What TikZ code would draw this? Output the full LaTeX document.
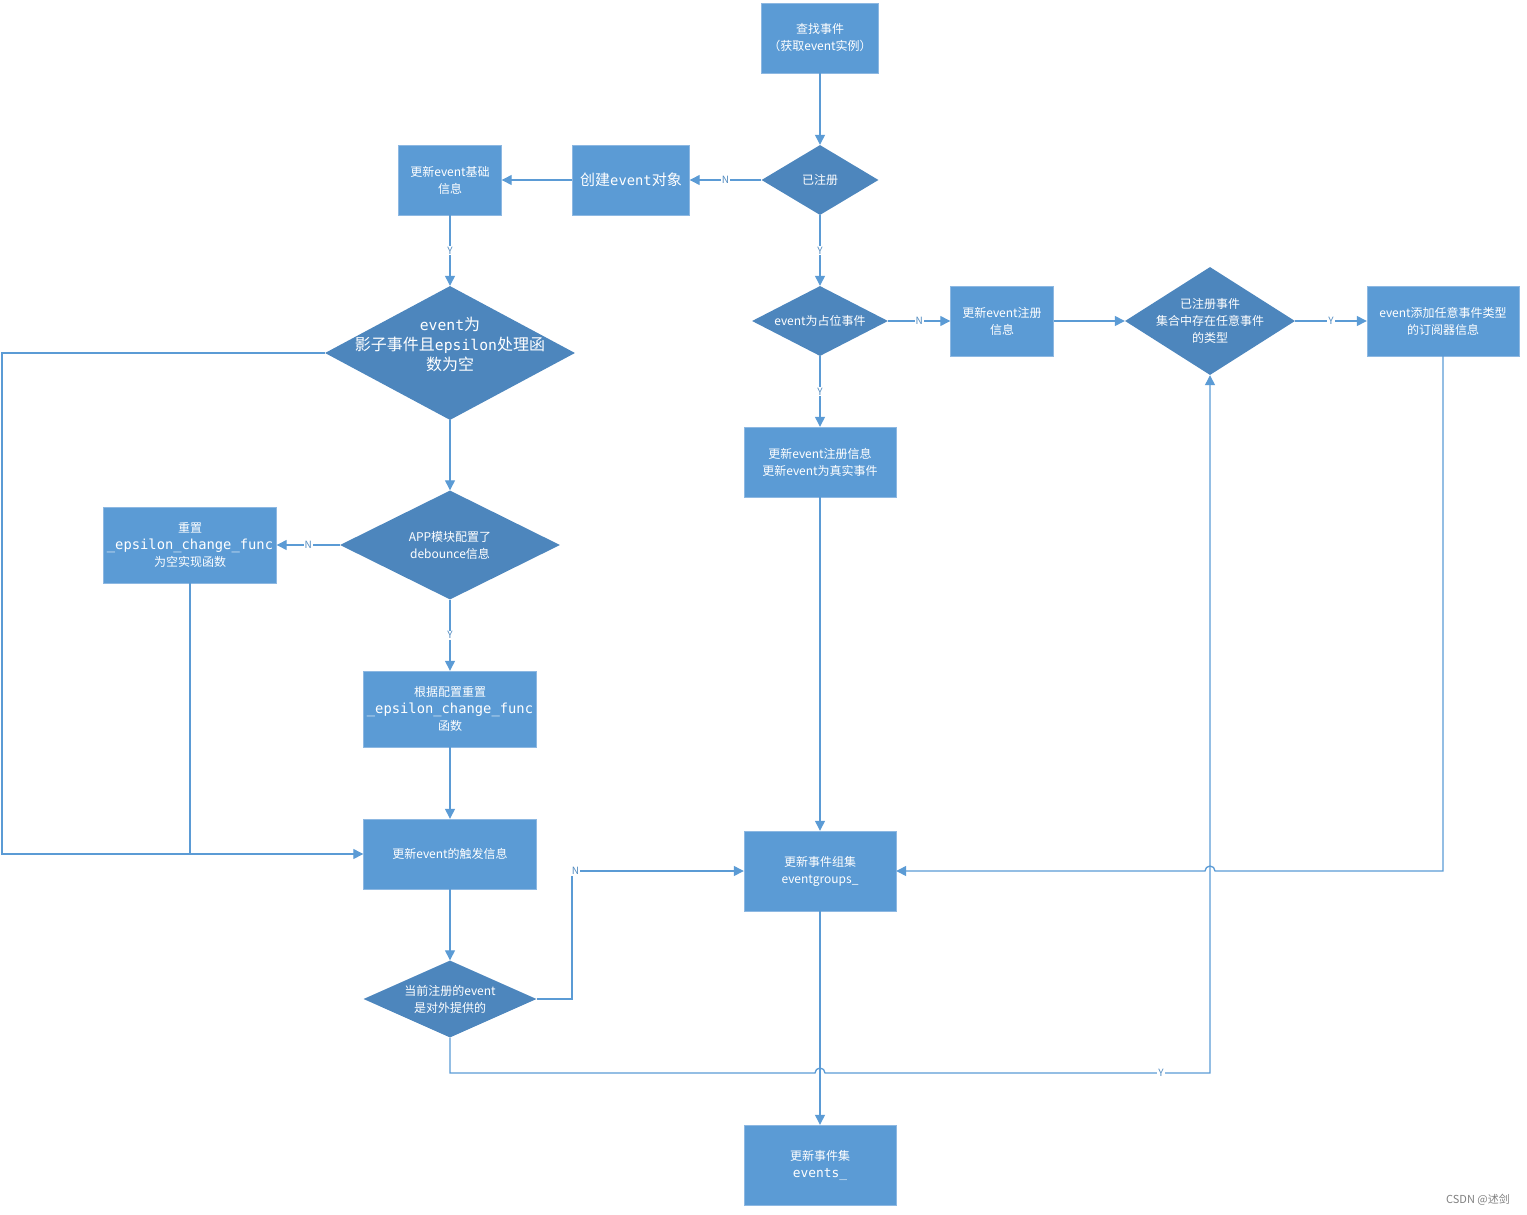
\documentclass[tikz,border=0pt]{standalone}
\usepackage{fontspec}
\setmainfont{Noto Sans CJK SC}
\setmonofont[Scale=0.92]{DejaVu Sans Mono}
\usetikzlibrary{shapes.geometric,arrows.meta}
\definecolor{boxblue}{HTML}{5B9BD5}
\definecolor{diablue}{HTML}{4D86BD}
\definecolor{lineblue}{HTML}{5B9BD5}
\definecolor{boxedge}{HTML}{8DB8E2}

\begin{document}
\begin{tikzpicture}[x=1pt,y=-1pt]

\tikzset{box/.style = {shape=rectangle,draw=boxedge,fill=boxblue,text=white,align=center,inner sep=0pt,font=\fontsize{12}{17}\selectfont}}
\tikzset{decision/.style = {shape=diamond,fill=diablue,inner sep=0pt}}
\tikzset{txt/.style = {text=white,align=center,inner sep=0pt,font=\fontsize{12}{17}\selectfont}}
\tikzset{edge/.style = {-{Triangle[length=10pt,width=10pt]},draw=lineblue,line width=1.3pt}}
\tikzset{wire/.style = {draw=lineblue,line width=1.3pt}}
\tikzset{lbl/.style = {fill=white,text=lineblue!90!black,inner sep=1pt,font=\fontsize{10}{10}\selectfont}}

\useasboundingbox (0,0) rectangle (1527,1215);

% vertices
\node[box,minimum width=117pt,minimum height=70pt] (find) at (820,38) {查找事件\\（获取event实例）};
\node[decision,minimum width=117pt,minimum height=70pt] (reg) at (820,180) {};
\node[txt] (regtxt) at (reg) {已注册};
\node[box,minimum width=117pt,minimum height=70pt,font=\fontsize{15}{18}\selectfont] (create) at (631,180) {创建\texttt{event}对象};
\node[box,minimum width=103pt,minimum height=70pt] (base) at (450,180) {更新event基础\\信息};
\node[decision,minimum width=250pt,minimum height=134pt] (shadow) at (450,353) {};
\node[txt,font=\fontsize{16}{20}\selectfont] (shadowtxt) at (450,344) {\texttt{event}为\\影子事件且\texttt{epsilon}处理函\\数为空};
\node[decision,minimum width=220pt,minimum height=109pt] (debounce) at (450,545) {};
\node[txt] (debouncetxt) at (debounce) {APP模块配置了\\debounce信息};
\node[box,minimum width=173pt,minimum height=76pt] (resetempty) at (190,545) {重置\\{\fontsize{15}{18}\selectfont\texttt{\_epsilon\_change\_func}}\\为空实现函数};
\node[box,minimum width=173pt,minimum height=76pt] (resetcfg) at (450,709) {根据配置重置\\{\fontsize{15}{18}\selectfont\texttt{\_epsilon\_change\_func}}\\函数};
\node[box,minimum width=173pt,minimum height=70pt] (trigger) at (450,854) {更新event的触发信息};
\node[decision,minimum width=173pt,minimum height=77pt] (public) at (450,999) {};
\node[txt] (publictxt) at (public) {当前注册的event\\是对外提供的};
\node[decision,minimum width=136pt,minimum height=70pt] (holder) at (820,321) {};
\node[txt] (holdertxt) at (holder) {event为占位事件};
\node[box,minimum width=152pt,minimum height=70pt] (real) at (820,462) {更新event注册信息\\更新event为真实事件};
\node[box,minimum width=103pt,minimum height=70pt] (reginfo) at (1002,321) {更新event注册\\信息};
\node[decision,minimum width=170pt,minimum height=108pt] (anytype) at (1210,321) {};
\node[txt] (anytypetxt) at (anytype) {已注册事件\\集合中存在任意事件\\的类型};
\node[box,minimum width=152pt,minimum height=70pt] (subscriber) at (1443,321) {event添加任意事件类型\\的订阅器信息};
\node[box,minimum width=152pt,minimum height=80pt] (groups) at (820,871) {更新事件组集\\eventgroups\_};
\node[box,minimum width=152pt,minimum height=80pt] (events) at (820,1165) {更新事件集\\{\fontsize{14}{18}\selectfont\texttt{events\_}}};
\node[text=gray,font=\fontsize{11}{11}\selectfont] (mark) at (1478,1200) {CSDN @述剑};

%edges
\draw[edge] (find) -- (reg);
\draw[edge] (reg) -- node[lbl] {N} (create);
\draw[edge] (create) -- (base);
\draw[edge] (base) -- node[lbl] {Y} (shadow);
\draw[edge] (shadow) -- (debounce);
\draw[edge] (debounce) -- node[lbl] {N} (resetempty);
\draw[edge] (debounce) -- node[lbl] {Y} (resetcfg);
\draw[edge] (resetcfg) -- (trigger);
\draw[edge] (shadow.west) -- (2,353) |- (trigger.west);
\draw[wire] (resetempty.south) -- (resetempty.south |- trigger.west);
\draw[edge] (trigger) -- (public);
\draw[edge] (public.east) -| (572,871) -- node[lbl,pos=0.02] {N} (groups.west);
\draw[edge] (public.south) |- (815,1073) arc[start angle=180,end angle=0,radius=5pt] -- (1161,1073) node[lbl] {Y} -| (anytype.south);
\draw[edge] (reg) -- node[lbl] {Y} (holder);
\draw[edge] (holder) -- node[lbl] {N} (reginfo);
\draw[edge] (holder) -- node[lbl] {Y} (real);
\draw[edge] (reginfo) -- (anytype);
\draw[edge] (anytype) -- node[lbl] {Y} (subscriber);
\draw[edge] (subscriber.south) |- (1215,871) arc[start angle=0,end angle=180,radius=5pt] -- (groups.east);
\draw[edge] (real) -- (groups);
\draw[edge] (groups) -- (events);
\end{tikzpicture}
\end{document}
